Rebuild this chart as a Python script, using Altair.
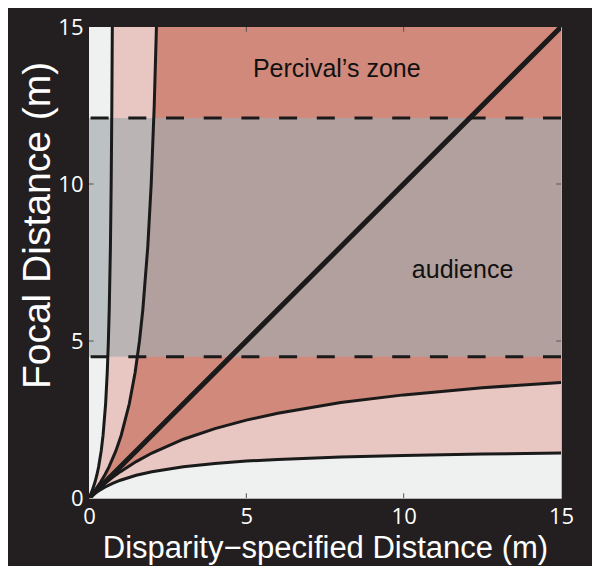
import altair as alt
import pandas as pd

# ---- data ----
X_LOWER = [0, 0.1, 0.25, 0.5, 0.75, 1, 1.5, 2, 3, 4, 5, 6, 8, 10, 12.5, 15]
Y_INNER_LOWER = [0, 0.099, 0.241, 0.460, 0.658, 0.840, 1.159, 1.432, 1.871, 2.211,
                 2.481, 2.701, 3.038, 3.284, 3.511, 3.681]
Y_OUTER_LOWER = [0, 0.083, 0.193, 0.344, 0.467, 0.567, 0.723, 0.838, 0.997, 1.101,
                 1.175, 1.230, 1.306, 1.357, 1.400, 1.431]
Y_UPPER = [0, 0.1, 0.25, 0.5, 0.75, 1, 1.5, 2, 3, 4, 5, 6, 8, 10, 12.5, 15]
X_INNER_UPPER = [0, 0.082, 0.196, 0.365, 0.511, 0.639, 0.853, 1.024, 1.281, 1.466,
                 1.604, 1.711, 1.868, 1.977, 2.073, 2.143]
X_OUTER_UPPER = [0, 0.046, 0.107, 0.189, 0.254, 0.307, 0.388, 0.447, 0.528, 0.580,
                 0.616, 0.643, 0.681, 0.705, 0.726, 0.741]
DIAGONAL = [0, 15]
AUDIENCE = [4.5, 12.1]
TICKS = [0, 5, 10, 15]
INNER_TICKS = [5, 10]
LABEL_TEXT = ["Percival\u2019s zone", "audience"]
LABEL_X = [5.21, 10.26]
LABEL_Y = [13.42, 7.0]
X_TITLE = "Disparity\u2212specified Distance (m)"
Y_TITLE = "Focal Distance (m)"

# ---- colours ----
BG_DARK = "#231f20"
LIGHT = "#eef1f0"
PINK = "#e8c6c1"
SALMON = "#d0897b"
OVERLAY = "#a3abb0"
INK = "#1a1a1a"

XMAX = TICKS[-1]

lower = pd.DataFrame({"x": X_LOWER, "yi": Y_INNER_LOWER, "yo": Y_OUTER_LOWER,
                      "top": [XMAX] * len(X_LOWER)})
upper = pd.DataFrame({"y": Y_UPPER, "xi": X_INNER_UPPER, "xo": X_OUTER_UPPER,
                      "left": [0] * len(Y_UPPER), "i": list(range(len(Y_UPPER)))})
diag = pd.DataFrame({"x": DIAGONAL, "y": DIAGONAL})
aud = pd.DataFrame({"y": [AUDIENCE[0]], "y2": [AUDIENCE[1]], "x": [0], "x2": [XMAX],
                    "zero": [0], "top": [XMAX]})
dash = pd.DataFrame({"y": AUDIENCE})
labels = pd.DataFrame({"x": LABEL_X, "y": LABEL_Y, "t": LABEL_TEXT})
ticks = pd.DataFrame({"v": INNER_TICKS, "a": [0] * len(INNER_TICKS),
                      "b": [0.15] * len(INNER_TICKS),
                      "c": [XMAX - 0.15] * len(INNER_TICKS), "d": [XMAX] * len(INNER_TICKS)})

sc = alt.Scale(domain=[0, XMAX], nice=False, zero=False)
XAX = alt.Axis(values=TICKS, title=X_TITLE, grid=False, domain=False, ticks=False,
               labelColor="white", labelFont="Open Sans", labelFontSize=22,
               labelPadding=8, titleColor="white", titleFont="Liberation Sans",
               titleFontSize=31, titleFontWeight="normal", titleBaseline="alphabetic",
               titleY=59, labelFlush=False)
YAX = alt.Axis(values=TICKS, title=Y_TITLE, grid=False, domain=False, ticks=False,
               labelColor="white", labelFont="Open Sans", labelFontSize=22,
               labelPadding=6, titleColor="white", titleFont="Liberation Sans",
               titleFontSize=39, titleFontWeight="normal", titleBaseline="alphabetic",
               titleX=-40, titleY=198, titleAlign="center", labelFlush=False)


def X(f):
    return alt.X(f, type="quantitative", scale=sc, axis=XAX)


def Y(f):
    return alt.Y(f, type="quantitative", scale=sc, axis=YAX)


bg = alt.Chart(aud).mark_rect(color=LIGHT).encode(
    x=X("x"), x2="x2", y=Y("zero"), y2="top")

pink_v = alt.Chart(lower).mark_area(color=PINK, opacity=1).encode(
    x=X("x"), y=Y("yo"), y2="top")
salmon_v = alt.Chart(lower).mark_area(color=SALMON, opacity=1).encode(
    x=X("x"), y=Y("yi"), y2="top")
pink_h = alt.Chart(upper).mark_area(color=PINK, opacity=1, orient="horizontal").encode(
    y=Y("y"), x=X("xi"), x2="left")
light_h = alt.Chart(upper).mark_area(color=LIGHT, opacity=1, orient="horizontal").encode(
    y=Y("y"), x=X("xo"), x2="left")

band = alt.Chart(aud).mark_rect(color=OVERLAY, opacity=0.68).encode(
    x=X("x"), x2="x2", y=Y("y"), y2="y2")

dashes = alt.Chart(dash).mark_rule(color=INK, strokeWidth=3, strokeDash=[18, 19.7]).encode(
    y=Y("y"))

line_il = alt.Chart(lower).mark_line(color=INK, strokeWidth=3, clip=True).encode(
    x=X("x"), y=Y("yi"))
line_ol = alt.Chart(lower).mark_line(color=INK, strokeWidth=3, clip=True).encode(
    x=X("x"), y=Y("yo"))
line_iu = alt.Chart(upper).mark_line(color=INK, strokeWidth=3, clip=True).encode(
    x=X("xi"), y=Y("y"), order="i:Q")
line_ou = alt.Chart(upper).mark_line(color=INK, strokeWidth=3, clip=True).encode(
    x=X("xo"), y=Y("y"), order="i:Q")
line_d = alt.Chart(diag).mark_line(color=INK, strokeWidth=5, clip=True).encode(
    x=X("x"), y=Y("y"))

tb = alt.Chart(ticks).mark_rule(color="#555555", strokeWidth=1).encode(
    x=X("v"), y=Y("a"), y2="b")
tt = alt.Chart(ticks).mark_rule(color="#555555", strokeWidth=1).encode(
    x=X("v"), y=Y("c"), y2="d")
tl = alt.Chart(ticks).mark_rule(color="#555555", strokeWidth=1).encode(
    y=Y("v"), x=X("a"), x2="b")
tr = alt.Chart(ticks).mark_rule(color="#555555", strokeWidth=1).encode(
    y=Y("v"), x=X("c"), x2="d")

text = alt.Chart(labels).mark_text(align="left", baseline="alphabetic", fontSize=25,
                                   font="Liberation Sans", color="#111111").encode(
    x=X("x"), y=Y("y"), text="t:N")

chart = alt.layer(
    bg, pink_v, salmon_v, pink_h, light_h, band, dashes,
    line_il, line_ol, line_iu, line_ou, line_d, tb, tt, tl, tr, text
).properties(
    width=472, height=471,
    padding={"left": 81, "top": 19, "right": 31, "bottom": 68},
    autosize=alt.AutoSizeParams(type="none"),
    background=BG_DARK,
).configure_view(stroke="#b5b5b5", strokeWidth=1)

chart.save("out.html", embed_options={"renderer": "svg", "actions": False})
